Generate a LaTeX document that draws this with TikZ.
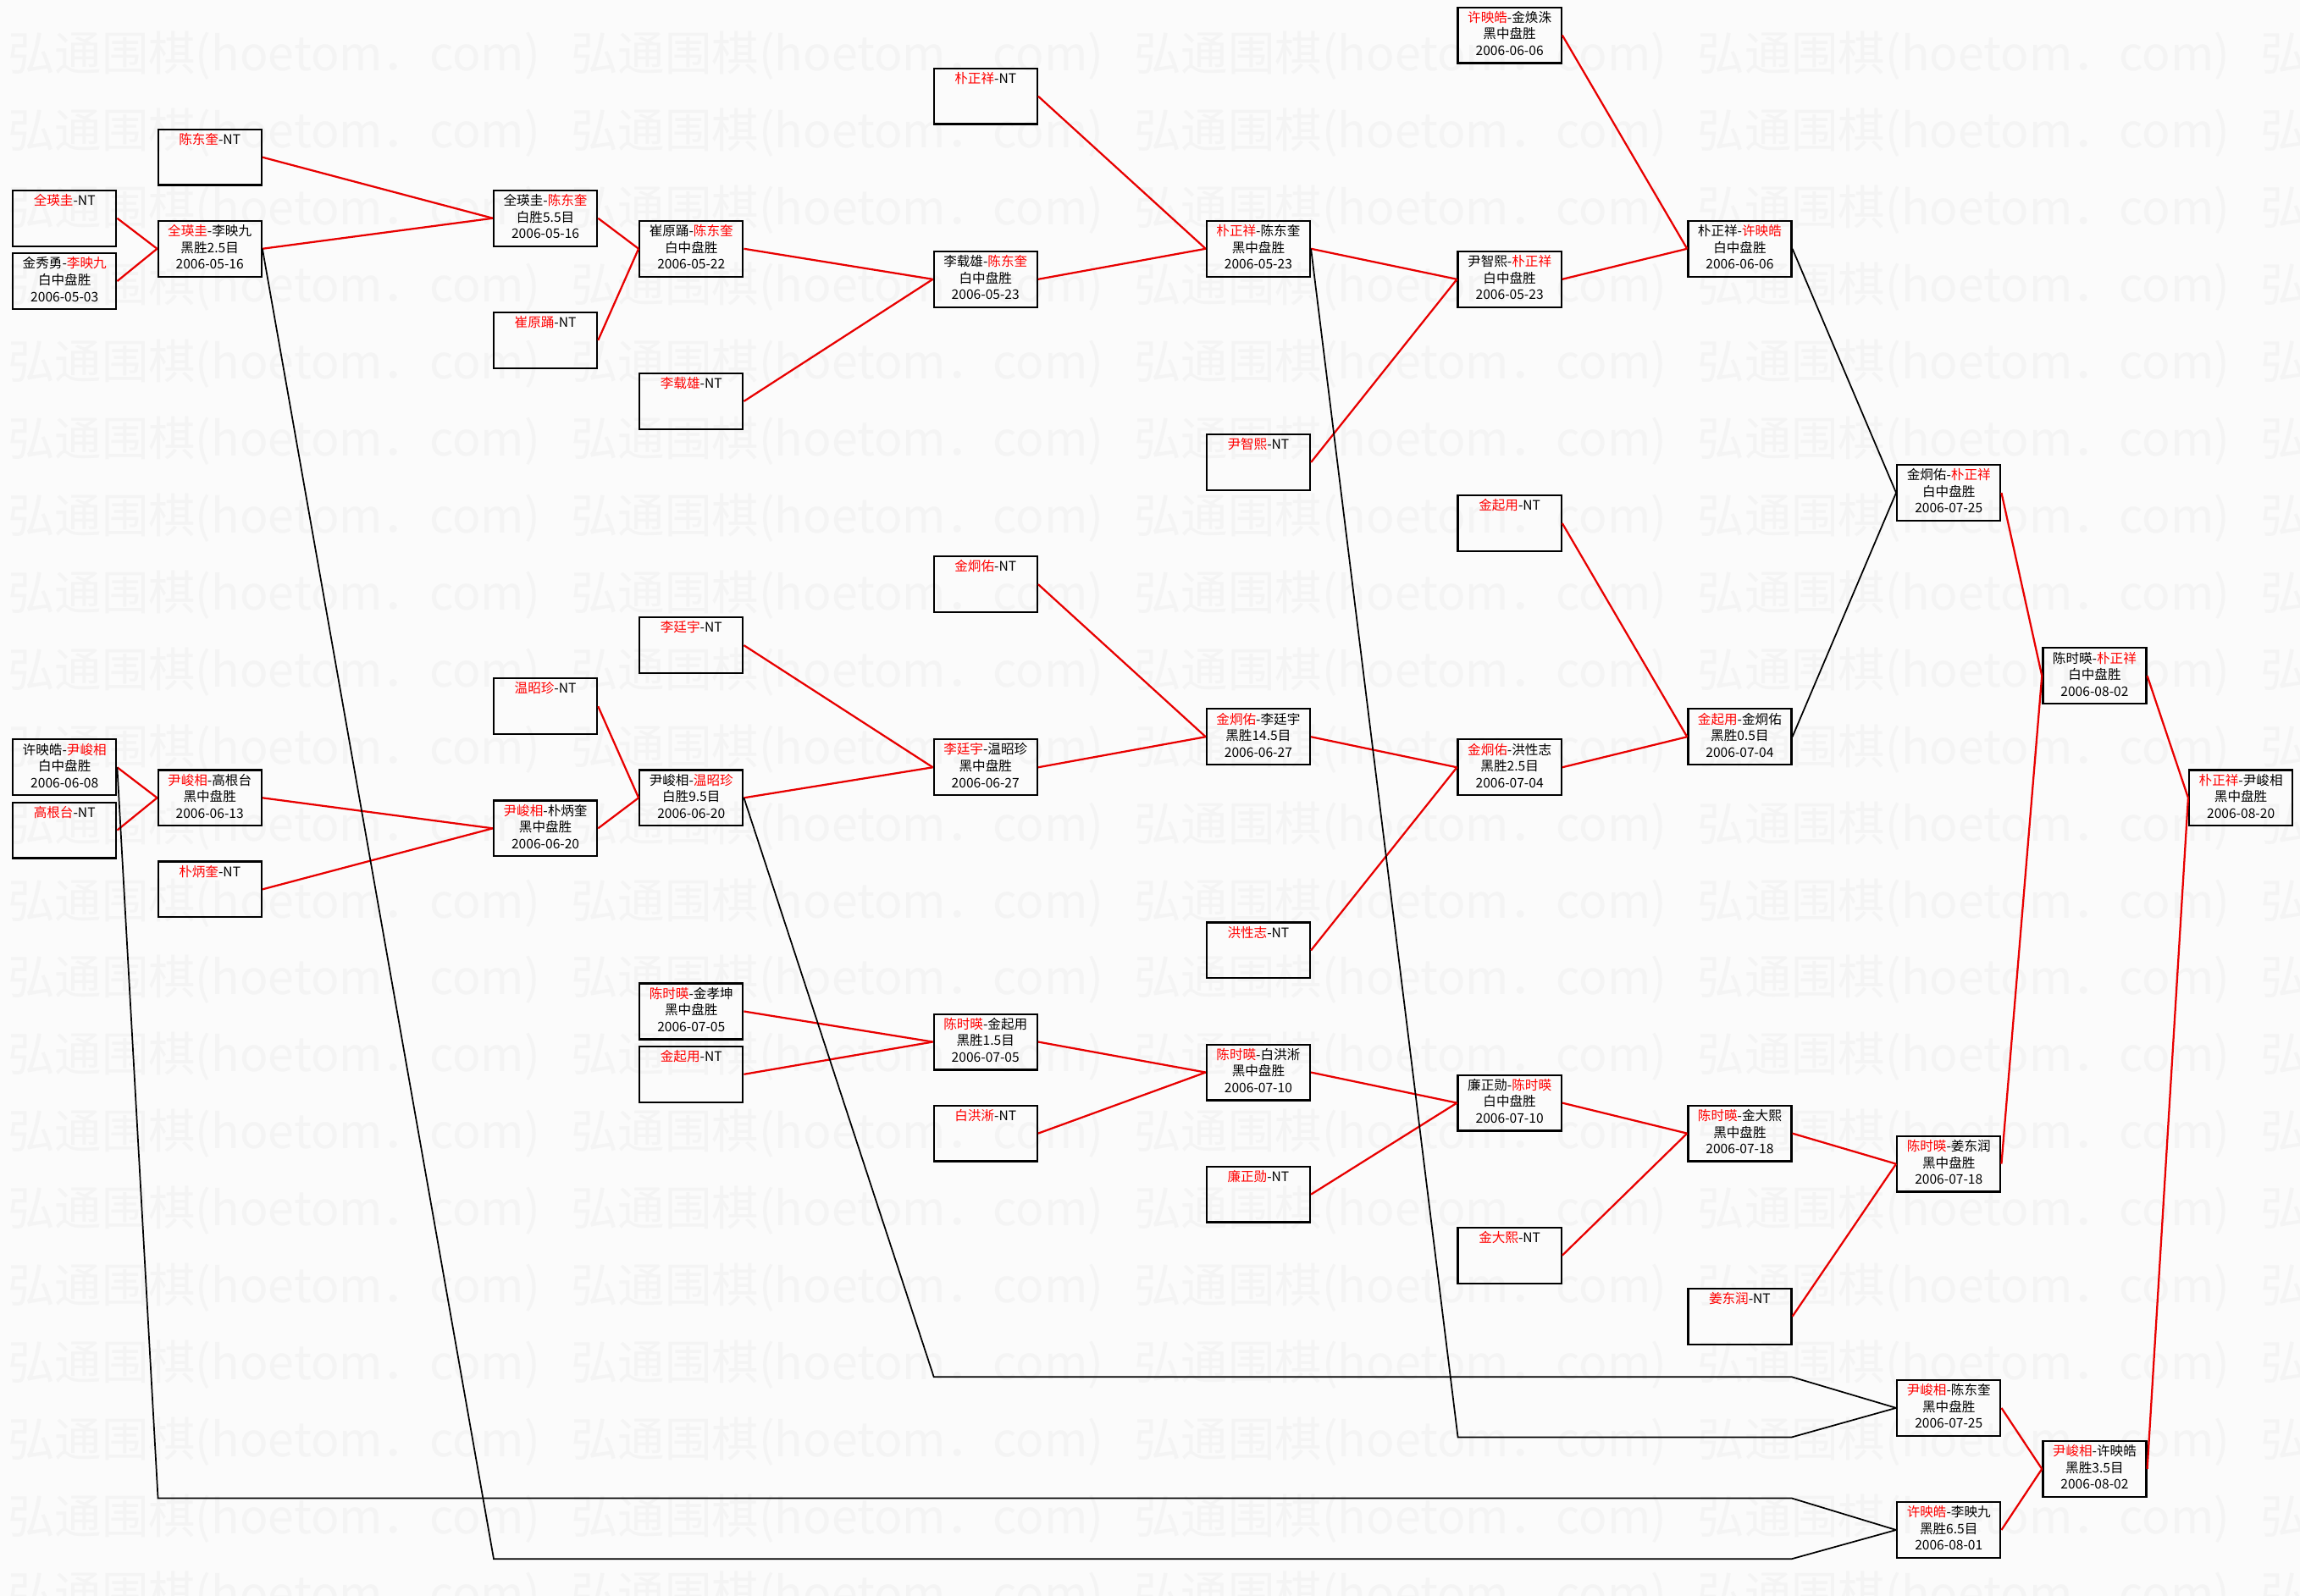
\documentclass[tikz,border=0pt]{standalone}
\usepackage{fontspec}
\setmainfont{Noto Sans CJK SC}
\usepackage{tikz}
\usepackage{xcolor}
\usetikzlibrary{positioning}

\definecolor{pagebg}{gray}{0.985}
\definecolor{wmgray}{gray}{0.955}
\definecolor{winred}{RGB}{232,0,0}

\newcommand{\winner}[1]{\textcolor{red}{#1}}
\newcommand{\match}[3]{\parbox[c][38pt][t]{70pt}{\centering\fontsize{9}{11.3}\selectfont\vspace*{2.6pt}#1\\#2\\#3}}
\newcommand{\walkover}[1]{\parbox[c][38pt][t]{70pt}{\centering\fontsize{9}{11.3}\selectfont\vspace*{2.6pt}\winner{#1}-NT}}

\begin{document}
\begin{tikzpicture}[x=1pt, y=-1pt, node distance=3.6pt, semithick]
\tikzstyle{game} = [draw=black, line width=1.3pt, inner sep=0pt, minimum width=70.5pt, minimum height=38pt]
\tikzstyle{wmark} = [text=wmgray, anchor=west, inner sep=0pt, font=\fontsize{32}{32}\selectfont]
\tikzstyle{win} = [draw=winred, line width=1.3pt]
\tikzstyle{lose} = [draw=black, line width=1pt]

\useasboundingbox (0,0) rectangle (1568,1088);
\fill[pagebg] (0,0) rectangle (1568,1088);

\foreach \r in {0,...,20}
  \foreach \c in {0,...,4}
    \node[wmark] (wm-\r-\c) at ({5+384*\c}, {38+52.5*\r}) {弘通围棋(hoetom．com)};

\node[game] (A1) at (44,148.8) {\walkover{全瑛圭}};
\node[game] (A2)[below=of A1] {\match{金秀勇-\winner{李映九}}{白中盘胜}{2006-05-03}};
\node[game] (A3) at (44,523.2) {\match{许映皓-\winner{尹峻相}}{白中盘胜}{2006-06-08}};
\node[game] (A4)[below=of A3] {\walkover{高根台}};

\node[game] (B1) at (143,107.2) {\walkover{陈东奎}};
\node[game] (B2) at (143,169.6) {\match{\winner{全瑛圭}-李映九}{黑胜2.5目}{2006-05-16}};
\node[game] (B3) at (143,544) {\match{\winner{尹峻相}-高根台}{黑中盘胜}{2006-06-13}};
\node[game] (B4) at (143,606.4) {\walkover{朴炳奎}};

\node[game] (C1) at (371.85,148.8) {\match{全瑛圭-\winner{陈东奎}}{白胜5.5目}{2006-05-16}};
\node[game] (C2) at (371.85,232) {\walkover{崔原踊}};
\node[game] (C3) at (371.85,481.6) {\walkover{温昭珍}};
\node[game] (C4) at (371.85,564.8) {\match{\winner{尹峻相}-朴炳奎}{黑中盘胜}{2006-06-20}};

\node[game] (D1) at (471.25,169.6) {\match{崔原踊-\winner{陈东奎}}{白中盘胜}{2006-05-22}};
\node[game] (D2) at (471.25,273.6) {\walkover{李载雄}};
\node[game] (D3) at (471.25,440) {\walkover{李廷宇}};
\node[game] (D4) at (471.25,544) {\match{尹峻相-\winner{温昭珍}}{白胜9.5目}{2006-06-20}};
\node[game] (D5) at (471.25,689.6) {\match{\winner{陈时暎}-金孝坤}{黑中盘胜}{2006-07-05}};
\node[game] (D6)[below=of D5] {\walkover{金起用}};

\node[game] (E1) at (671.85,65.6) {\walkover{朴正祥}};
\node[game] (E2) at (671.85,190.4) {\match{李载雄-\winner{陈东奎}}{白中盘胜}{2006-05-23}};
\node[game] (E3) at (671.85,398.4) {\walkover{金炯佑}};
\node[game] (E4) at (671.85,523.2) {\match{\winner{李廷宇}-温昭珍}{黑中盘胜}{2006-06-27}};
\node[game] (E5) at (671.85,710.4) {\match{\winner{陈时暎}-金起用}{黑胜1.5目}{2006-07-05}};
\node[game] (E6) at (671.85,772.8) {\walkover{白洪淅}};

\node[game] (F1) at (857.85,169.6) {\match{\winner{朴正祥}-陈东奎}{黑中盘胜}{2006-05-23}};
\node[game] (F2) at (857.85,315.2) {\walkover{尹智熙}};
\node[game] (F3) at (857.85,502.4) {\match{\winner{金炯佑}-李廷宇}{黑胜14.5目}{2006-06-27}};
\node[game] (F4) at (857.85,648) {\walkover{洪性志}};
\node[game] (F5) at (857.85,731.2) {\match{\winner{陈时暎}-白洪淅}{黑中盘胜}{2006-07-10}};
\node[game] (F6) at (857.85,814.4) {\walkover{廉正勋}};

\node[game] (G1) at (1029.15,24) {\match{\winner{许映皓}-金焕洙}{黑中盘胜}{2006-06-06}};
\node[game] (G2) at (1029.15,190.4) {\match{尹智熙-\winner{朴正祥}}{白中盘胜}{2006-05-23}};
\node[game] (G3) at (1029.15,356.8) {\walkover{金起用}};
\node[game] (G4) at (1029.15,523.2) {\match{\winner{金炯佑}-洪性志}{黑胜2.5目}{2006-07-04}};
\node[game] (G5) at (1029.15,752) {\match{廉正勋-\winner{陈时暎}}{白中盘胜}{2006-07-10}};
\node[game] (G6) at (1029.15,856) {\walkover{金大熙}};

\node[game] (H1) at (1186.05,169.6) {\match{朴正祥-\winner{许映皓}}{白中盘胜}{2006-06-06}};
\node[game] (H2) at (1186.05,502.4) {\match{\winner{金起用}-金炯佑}{黑胜0.5目}{2006-07-04}};
\node[game] (H3) at (1186.05,772.8) {\match{\winner{陈时暎}-金大熙}{黑中盘胜}{2006-07-18}};
\node[game] (H4) at (1186.05,897.6) {\walkover{姜东润}};

\node[game] (I1) at (1328.55,336) {\match{金炯佑-\winner{朴正祥}}{白中盘胜}{2006-07-25}};
\node[game] (I2) at (1328.55,793.6) {\match{\winner{陈时暎}-姜东润}{黑中盘胜}{2006-07-18}};
\node[game] (I3) at (1328.55,960) {\match{\winner{尹峻相}-陈东奎}{黑中盘胜}{2006-07-25}};
\node[game] (I4) at (1328.55,1043.2) {\match{\winner{许映皓}-李映九}{黑胜6.5目}{2006-08-01}};

\node[game] (J1) at (1427.95,460.8) {\match{陈时暎-\winner{朴正祥}}{白中盘胜}{2006-08-02}};
\node[game] (J2) at (1427.95,1001.6) {\match{\winner{尹峻相}-许映皓}{黑胜3.5目}{2006-08-02}};

\node[game] (K1) at (1527.65,544) {\match{\winner{朴正祥}-尹峻相}{黑中盘胜}{2006-08-20}};

\coordinate (a3low) at (107.7,1021.5);
\coordinate (a3turn) at (1221.3,1021.5);
\coordinate (b2low) at (336.6,1063);
\coordinate (b2turn) at (1221.3,1063);
\coordinate (d4low) at (636.6,938.8);
\coordinate (d4turn) at (1221.3,938.8);
\coordinate (f1low) at (993.9,980);
\coordinate (f1turn) at (1221.3,980);

\path (A1.east) edge[win] (B2.west)
	(A2.east) edge[win] (B2.west)
	(B1.east) edge[win] (C1.west)
	(B2.east) edge[win] (C1.west)
	(C1.east) edge[win] (D1.west)
	(C2.east) edge[win] (D1.west)
	(D1.east) edge[win] (E2.west)
	(D2.east) edge[win] (E2.west)
	(E1.east) edge[win] (F1.west)
	(E2.east) edge[win] (F1.west)
	(F1.east) edge[win] (G2.west)
	(F2.east) edge[win] (G2.west)
	(G1.east) edge[win] (H1.west)
	(G2.east) edge[win] (H1.west)
	(H1.east) edge[lose] (I1.west)
	(H2.east) edge[lose] (I1.west)
	(I1.east) edge[win] (J1.west)
	(J1.east) edge[win] (K1.west)
	;

\path (A3.east) edge[win] (B3.west)
	(A4.east) edge[win] (B3.west)
	(B3.east) edge[win] (C4.west)
	(B4.east) edge[win] (C4.west)
	(C3.east) edge[win] (D4.west)
	(C4.east) edge[win] (D4.west)
	(D3.east) edge[win] (E4.west)
	(D4.east) edge[win] (E4.west)
	(E3.east) edge[win] (F3.west)
	(E4.east) edge[win] (F3.west)
	(F3.east) edge[win] (G4.west)
	(F4.east) edge[win] (G4.west)
	(G3.east) edge[win] (H2.west)
	(G4.east) edge[win] (H2.west)
	;

\path (D5.east) edge[win] (E5.west)
	(D6.east) edge[win] (E5.west)
	(E5.east) edge[win] (F5.west)
	(E6.east) edge[win] (F5.west)
	(F5.east) edge[win] (G5.west)
	(F6.east) edge[win] (G5.west)
	(G5.east) edge[win] (H3.west)
	(G6.east) edge[win] (H3.west)
	(H3.east) edge[win] (I2.west)
	(H4.east) edge[win] (I2.west)
	(I2.east) edge[win] (J1.west)
	(I3.east) edge[win] (J2.west)
	(I4.east) edge[win] (J2.west)
	(J2.east) edge[win] (K1.west)
	;

\draw[lose] (A3.east) -- (a3low) -- (a3turn) -- (I4.west);
\draw[lose] (B2.east) -- (b2low) -- (b2turn) -- (I4.west);
\draw[lose] (D4.east) -- (d4low) -- (d4turn) -- (I3.west);
\draw[lose] (F1.east) -- (f1low) -- (f1turn) -- (I3.west);

\end{tikzpicture}
\end{document}
